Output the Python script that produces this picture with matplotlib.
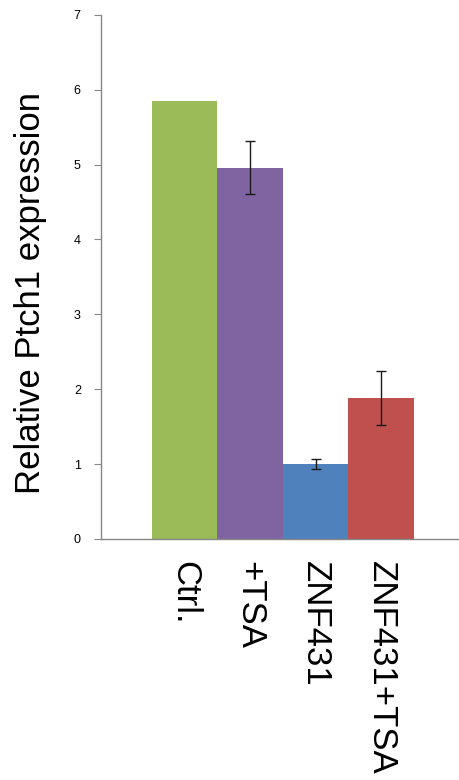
import matplotlib
matplotlib.use("Agg")
import matplotlib.pyplot as plt

categories = ["Ctrl.", "+TSA", "ZNF431", "ZNF431+TSA"]
values = [5.85, 4.96, 1.00, 1.88]
errors = [0.0, 0.35, 0.07, 0.36]
colors = ["#9BBB59", "#8064A2", "#4F81BD", "#C0504D"]
yticks = [0, 1, 2, 3, 4, 5, 6, 7]

plt.rcParams['font.family'] = ['Liberation Sans', 'DejaVu Sans']

fig = plt.figure(figsize=(4.59, 7.8), dpi=100)
ax = fig.add_axes([0.220, 0.309, 0.780, 0.672])

x = list(range(len(categories)))
ax.bar(x, values, width=1.0, color=colors, edgecolor='none', zorder=2)
for xi, v, e in zip(x, values, errors):
    if e > 0:
        ax.errorbar(xi, v, yerr=e, fmt='none', ecolor='#1a1a1a', elinewidth=1.0,
                    capsize=3.6, capthick=1.0, zorder=3)

ax.set_xlim(-1.28, 4.19)
ax.set_ylim(0, 7)
ax.set_yticks(yticks)
ax.set_yticklabels([str(t) for t in yticks], fontsize=9)
ax.set_xticks(x)
ax.set_xticklabels(categories, rotation=-90, fontsize=25, va='top', ha='center')
ax.tick_params(axis='x', length=0, pad=16)
ax.tick_params(axis='y', length=5, width=0.8, color='#868686', pad=9.5)

for s in ['top', 'right']:
    ax.spines[s].set_visible(False)
for s in ['left', 'bottom']:
    ax.spines[s].set_color('#868686')
    ax.spines[s].set_linewidth(1.0)

ax.set_ylabel("Relative Ptch1 expression", fontsize=25)
ax.yaxis.set_label_coords(-0.151, 0.469)

fig.savefig("out.png", dpi=100)
